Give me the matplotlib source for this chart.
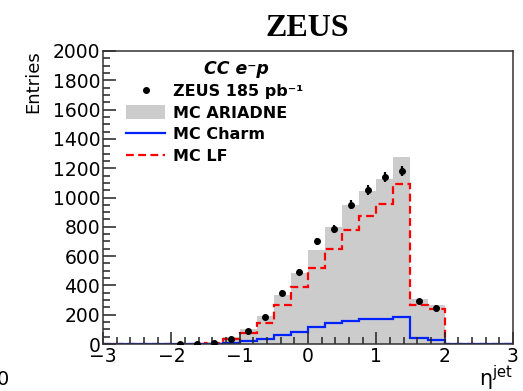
import numpy as np
import matplotlib.pyplot as plt
from matplotlib.lines import Line2D
from matplotlib.patches import Patch

# bins in eta^jet, 0.25 wide from -3 to 3
bin_edges = np.arange(-3.0, 3.0001, 0.25)

# MC ARIADNE (grey filled)
mc_ariadne = [0, 0, 0, 0, 2, 6, 15, 45, 105, 190, 333, 485,
              639, 796, 946, 1041, 1125, 1279, 308, 263, 0, 0, 0, 0]
# MC light flavour (red dashed)
mc_lf = [0, 0, 0, 0, 1, 3, 8, 33, 76, 146, 264, 391,
         517, 651, 781, 872, 954, 1090, 266, 237, 0, 0, 0, 0]
# MC charm (blue)
mc_charm = [0, 0, 0, 0, 0, 1, 3, 8, 20, 32, 61, 84,
            116, 141, 157, 168, 173, 184, 43, 29, 0, 0, 0, 0]

# ZEUS data points (only filled bins)
data_eta = [-1.875, -1.625, -1.375, -1.125, -0.875, -0.625, -0.375, -0.125,
            0.125, 0.375, 0.625, 0.875, 1.125, 1.375, 1.625, 1.875]
data_val = [1, 3, 9, 36, 88, 186, 349, 490,
            700, 787, 950, 1052, 1143, 1181, 292, 247]
data_err = [1, 2, 3, 6, 9, 14, 19, 22, 26, 28, 31, 32, 34, 35, 17, 16]

GREY = '#cccccc'
BLUE = '#0022ff'
RED = '#ff0000'

plt.rcParams['font.family'] = 'DejaVu Sans'

fig = plt.figure(figsize=(5.23, 3.91), dpi=100)
ax = fig.add_axes([103 / 523, 1 - 344 / 391, 410 / 523, 293 / 391])

ax.stairs(mc_ariadne, bin_edges, fill=True, color=GREY, lw=0)
ax.stairs(mc_lf, bin_edges, color=RED, lw=1.6, ls=(0, (3.5, 2.0)))
ax.stairs(mc_charm, bin_edges, color=BLUE, lw=1.6)
ax.errorbar(data_eta, data_val, yerr=data_err, fmt='o', color='k',
            ms=4, elinewidth=1.6, capsize=0, zorder=5)

ax.set_xlim(-3, 3)
ax.set_ylim(0, 2000)
ax.set_xticks(np.arange(-3, 3.1, 1))
ax.set_xticks(np.arange(-3, 3.01, 0.2), minor=True)
ax.set_yticks(np.arange(0, 2001, 200))
ax.set_yticks(np.arange(0, 2001, 50), minor=True)
ax.tick_params(which='both', direction='in', top=False, right=False,
               labelsize=13.5, width=1.1, color='#222222')
ax.tick_params(which='major', length=9, pad=2)
ax.tick_params(which='minor', length=5)
for s in ax.spines.values():
    s.set_linewidth(1.1)
    s.set_color('#333333')

# legend
handles = [Line2D([], [], ls='none', marker='o', ms=4, color='k'),
           Patch(facecolor=GREY, edgecolor='none'),
           Line2D([], [], color=BLUE, lw=1.6),
           Line2D([], [], color=RED, lw=1.6, ls=(0, (3.5, 2.0)))]
labels = ['ZEUS 185 pb\u207b\u00b9', 'MC ARIADNE', 'MC Charm', 'MC LF']
ax.legend(handles, labels, loc='upper left', bbox_to_anchor=(0.056, 0.888),
          frameon=False, borderpad=0, borderaxespad=0, handlelength=2.45,
          handleheight=0.95, handletextpad=0.5, labelspacing=0.39,
          prop={'weight': 'bold', 'size': 11.5})
ax.text((236 - 103) / 410, (344 - 69) / 293, 'CC e\u207bp', transform=ax.transAxes,
        ha='center', va='center', fontsize=12.5, fontweight='bold',
        fontstyle='italic')

fig.text(307 / 523, 1 - 28 / 391, 'ZEUS', family='Liberation Serif',
         fontweight='bold', fontsize=23, ha='center', va='center')
fig.text(33 / 523, 1 - 50 / 391, 'Entries', rotation=90, ha='center',
         va='top', fontsize=13)
fig.text(513 / 523, 5 / 391, r'$\mathrm{\eta}^{\mathrm{jet}}$', ha='right',
         va='baseline', fontsize=15)
fig.text(9 / 523, 1 - 385 / 391, '0', ha='right', va='baseline', fontsize=14)

fig.savefig('out.png', dpi=100)
